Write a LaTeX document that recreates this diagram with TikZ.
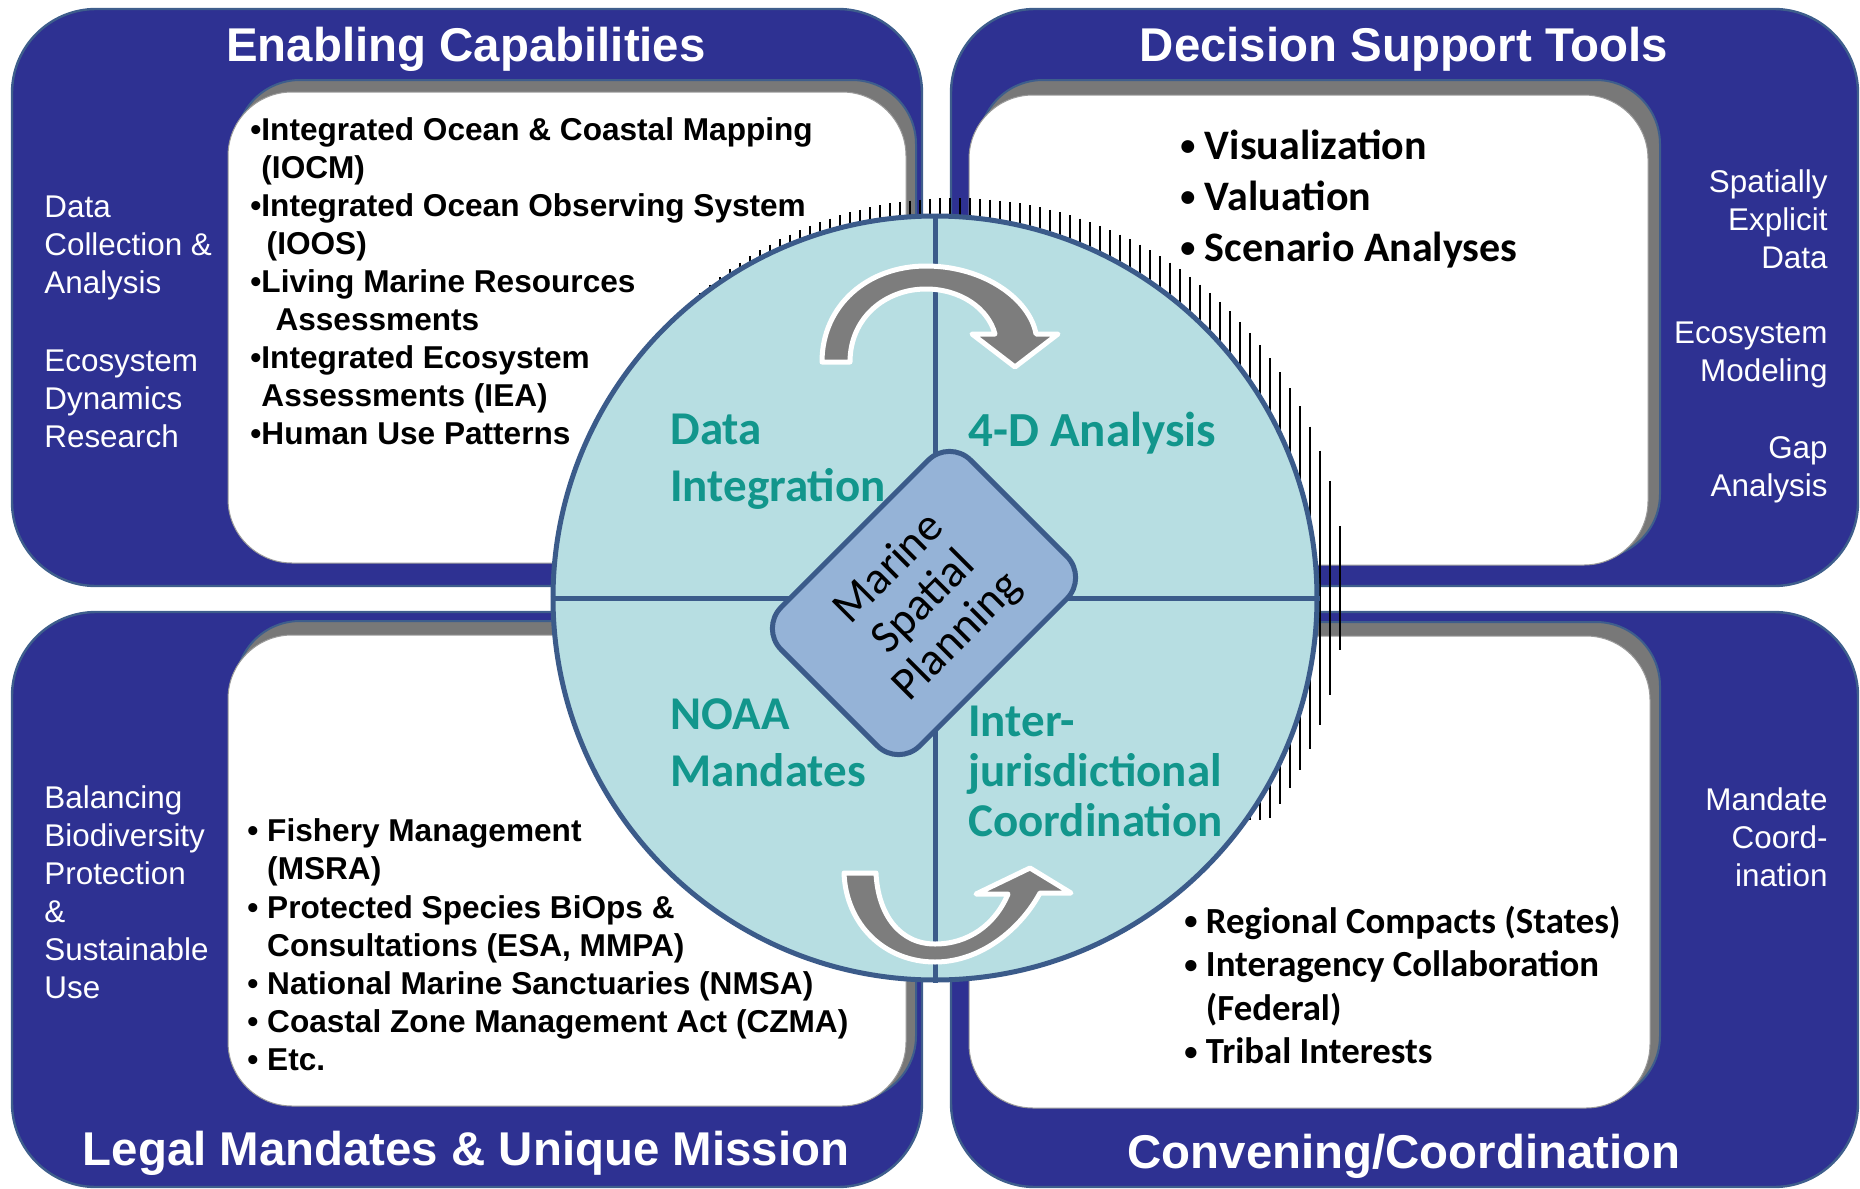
\documentclass[tikz,border=0pt]{standalone}
\usepackage{fontspec}
\setmainfont{Liberation Sans}
\newfontfamily\calibri{Carlito}
\newcommand\tbul{\raisebox{0.1em}{\scalebox{0.72}{\textbullet}}}
\definecolor{panelblue}{RGB}{46,49,146}
\definecolor{edgeblue}{RGB}{62,94,140}
\definecolor{shadegray}{RGB}{120,120,120}
\definecolor{ringfill}{RGB}{183,222,226}
\definecolor{ringline}{RGB}{59,91,138}
\definecolor{corefill}{RGB}{149,179,215}
\definecolor{tealtext}{RGB}{18,150,140}
\definecolor{arrowgray}{RGB}{125,125,125}
\tikzset{
  panel/.style={fill=panelblue, draw=edgeblue, line width=1.2pt, rounded corners=42pt},
  shadebox/.style={fill=shadegray, draw=edgeblue, line width=1pt, rounded corners=32pt},
  whitebox/.style={fill=white, draw=black!40, line width=0.5pt, rounded corners=32pt},
  title/.style={text=white, inner sep=0pt, font=\fontsize{23.7}{28}\selectfont\bfseries},
  side/.style={text=white, inner sep=0pt, font=\fontsize{15.7}{19}\selectfont},
  bul/.style={align=left, inner sep=0pt, font=\fontsize{15.8}{19}\selectfont\bfseries},
  tool/.style={align=left, inner sep=0pt, font=\calibri\bfseries\fontsize{21}{25.5}\selectfont},
  quad/.style={text=tealtext, align=left, inner sep=0pt, font=\calibri\bfseries\fontsize{23.5}{28.5}\selectfont},
  turn/.style={fill=arrowgray, draw=white, line width=2.5pt, line join=round},
  hatch/.style={black, line width=0.6pt}
}
\begin{document}
\begin{tikzpicture}[x=0.5pt,y=-0.5pt]
\useasboundingbox (0,0) rectangle (1860,1189);
\draw[panel] (12,9) rectangle (922,586);
\draw[panel] (951,9) rectangle (1858,586);
\draw[panel] (12,612) rectangle (922,1187);
\draw[panel] (951,612) rectangle (1858,1187);
\draw[shadebox] (236,80) rectangle (916,556);
\draw[whitebox] (228,92) rectangle (906,563);
\draw[shadebox] (979,80) rectangle (1660,558);
\draw[whitebox] (969,95) rectangle (1648,565);
\draw[shadebox] (236,621) rectangle (916,1100);
\draw[whitebox] (228,635) rectangle (906,1106);
\draw[shadebox] (979,622) rectangle (1660,1100);
\draw[whitebox] (969,636) rectangle (1650,1108);
\node[title] (ec) at (466,49) {Enabling Capabilities};
\node[title] (dst) at (1404,49) {Decision Support Tools};
\node[title] (lm) at (466,1153) {Legal Mandates \& Unique Mission};
\node[title] (cc) at (1404,1156) {Convening/Coordination};
\node[side, align=left, anchor=west] (dca) at (44,248) {Data\\Collection \&\\Analysis};
\node[side, align=left, anchor=west] (edr) at (44,399) {Ecosystem\\Dynamics\\Research};
\node[side, align=left, anchor=west] (bbp) at (44,892) {Balancing\\Biodiversity\\Protection\\\&\\Sustainable\\Use};
\node[side, align=right, anchor=east] (sed) at (1828,219) {Spatially\\Explicit\\Data};
\node[side, align=right, anchor=east] (em) at (1828,355) {Ecosystem\\Modeling};
\node[side, align=right, anchor=east] (ga) at (1828,470) {Gap\\Analysis};
\node[side, align=right, anchor=east] (mc) at (1828,837) {Mandate\\Coord-\\ination};
\node[bul, anchor=west] (ecl) at (250,281) {\textbullet Integrated Ocean \& Coastal Mapping\\\phantom{\textbullet}(IOCM)\\\textbullet Integrated Ocean Observing System\\\phantom{\textbullet\,}(IOOS)\\\textbullet Living Marine Resources\\\phantom{\textbullet\ \,}Assessments\\\textbullet Integrated Ecosystem\\\phantom{\textbullet}Assessments (IEA)\\\textbullet Human Use Patterns};
\node[bul, anchor=west, font=\fontsize{15.8}{19.1}\selectfont\bfseries] (lml) at (247,945) {\textbullet\ Fishery Management\\\phantom{\textbullet\ }(MSRA)\\\textbullet\ Protected Species BiOps \&\\\phantom{\textbullet\ }Consultations (ESA, MMPA)\\\textbullet\ National Marine Sanctuaries (NMSA)\\\textbullet\ Coastal Zone Management Act (CZMA)\\\textbullet\ Etc.};
\node[tool, anchor=west] (dsl) at (1180,199) {\tbul\ Visualization\\\tbul\ Valuation\\\tbul\ Scenario Analyses};
\node[tool, anchor=west, font=\calibri\bfseries\fontsize{18.4}{21.8}\selectfont] (ccl) at (1184,985) {\tbul\ Regional Compacts (States)\\\tbul\ Interagency Collaboration\\\phantom{\tbul\ }(Federal)\\\tbul\ Tribal Interests};
\foreach \hx in {700,710,...,1340}{
  \pgfmathsetmacro\hh{10*sqrt(max(1521-((\hx-955)/10)^2,0))}
  \pgfmathsetmacro\hb{min(588+\hh,820)}
  \draw[hatch] (\hx,588-\hh) -- (\hx,\hb);
}
\node[circle, draw=ringline, line width=2.5pt, fill=ringfill, minimum size=382pt, inner sep=0pt] (ring) at (935,598) {};
\draw[ringline, line width=2.5pt] (ring.north) -- (ring.south);
\draw[ringline, line width=2.5pt] (ring.west) -- (ring.east);
\filldraw[turn] (822,362) .. controls (822,305) and (868,266) .. (926,266) .. controls (985,266) and (1030,300) .. (1036,334) -- (1058,334) -- (1015,367) -- (972,334) -- (995,334) .. controls (988,308) and (960,289) .. (926,289) .. controls (885,289) and (850,318) .. (850,362) -- cycle;
\filldraw[turn] (844,873) .. controls (846,925) and (885,962) .. (935,962) .. controls (980,962) and (1020,930) .. (1040,893) -- (1071,893) -- (1030,868) -- (976,894) -- (1008,894) .. controls (995,925) and (968,944) .. (935,944) .. controls (900,944) and (878,915) .. (876,873) -- cycle;
\node[rectangle, rotate=45, rounded corners=15pt, draw=ringline, line width=2.5pt, fill=corefill, minimum width=134pt, minimum height=98pt, align=center, font=\calibri\fontsize{23}{24}\selectfont] (msp) at (924,603) {Marine\\Spatial\\Planning};
\node[quad, anchor=west] (dint) at (670,462) {Data\\Integration};
\node[quad, anchor=west, font=\calibri\bfseries\fontsize{24.5}{28.5}\selectfont] (fda) at (968,433) {4-D Analysis};
\node[quad, anchor=west] (noaa) at (670,743) {NOAA\\Mandates};
\node[quad, anchor=west, font=\calibri\bfseries\fontsize{23.5}{25}\selectfont] (ijc) at (968,771) {Inter-\\jurisdictional\\Coordination};
\end{tikzpicture}
\end{document}
